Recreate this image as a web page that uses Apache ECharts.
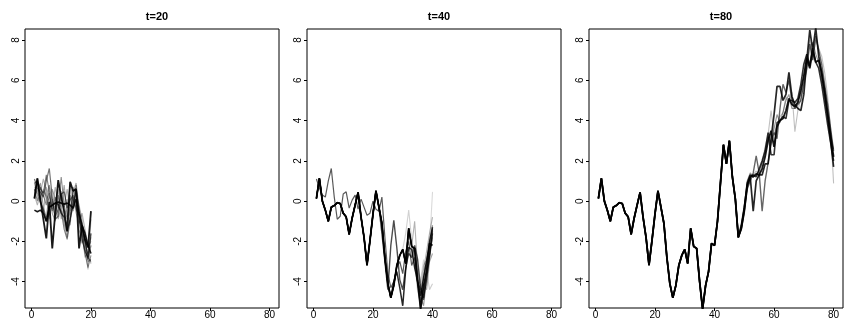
<!DOCTYPE html>
<html>
<head>
<meta charset="utf-8">
<script src="https://cdn.jsdelivr.net/npm/echarts@6/dist/echarts.min.js"></script>
<style>
  html, body { margin: 0; padding: 0; background: #fff; }
  #chart { width: 845px; height: 325px; }
</style>
</head>
<body>
<div id="chart"></div>
<script>
const titles = ['t=20', 't=40', 't=80']
const xTicks = [0, 20, 40, 60, 80]
const yTicks = [-4, -2, 0, 2, 4, 6, 8]

// shared ancestor path, t = 1..47
const trunk = [0.13, 1.13, 0.0, -0.45, -1.0, -0.3, -0.22, -0.08, -0.12, -0.6,
  -0.78, -1.65, -0.85, -0.2, 0.43, -0.8, -1.8, -3.18, -1.95, -0.65,
  0.51, -0.3, -1.1, -2.8, -4.1, -4.8, -4.2, -3.2, -2.7, -2.4,
  -3.1, -1.35, -2.25, -2.35, -4.0, -5.35, -4.2, -3.5, -2.1, -2.2,
  -1.0, 0.9, 2.8, 1.85, 3.0, 1.2, 0.1]

// panel t=20, paths t = 1..20
const p20a = [0.13, 1.13, 0.05, -0.9, -1.85, -0.03, -2.35, -0.6, 1.04, 0.2, -0.5, -1.5, 0.96, 0.5, 0.6, -2.35, -1.2, -1.9, -2.3, -0.5]
const p20b = [-0.45, -0.53, -0.45, -0.6, -1.0, -0.3, -0.2, -0.1, -0.05, -0.1, -0.15, -0.1, -0.2, -0.35, 0.1, -0.6, -1.2, -1.6, -2.2, -2.6]
const p20c = [0.13, 1.13, 0.0, -0.45, -1.0, -0.3, -0.22, -0.1, -0.15, -0.6, -0.8, -1.5, -0.9, -0.2, 0.6, -0.5, -1.4, -2.0, -2.8, -1.6]
const p20d = [1.1, 0.65, 0.45, 0.2, 1.0, 1.62, 0.2, -0.9, -0.75, 0.35, 0.46, -0.35, 0.05, 0.3, -0.4, -0.7, -1.6, -2.4, -2.9, -2.2]
const p20e = [0.6, 0.0, 0.7, 0.3, -0.2, 0.8, -0.1, -0.8, -0.4, 1.2, -0.2, -0.9, 0.3, -0.5, 0.8, -0.9, -1.8, -2.6, -3.3, -2.7]
const p20f = [0.9, 0.3, -0.1, 0.5, 0.2, -0.5, 0.6, 0.1, -0.9, -0.3, 0.8, -0.6, -1.2, 0.4, 0.9, -0.3, -1.1, -2.0, -2.6, -1.8]
const p20g = [0.2, 0.5, 0.9, -0.3, -0.8, 0.4, -0.6, -1.0, 0.3, -0.4, -1.1, -1.8, -0.4, 0.7, 0.2, -1.4, -2.1, -1.7, -3.0, -2.9]
const p20h = [0.7, 0.4, 0.2, 0.6, 0.3, 0.0, -0.4, -0.2, -0.6, 0.5, -0.3, 0.1, -0.7, -0.1, 0.4, -0.2, -0.9, -2.2, -3.4, -0.9]
const p20i = [0.3, -0.2, 0.4, 1.1, 0.5, -0.9, 0.1, -0.5, 0.6, -0.9, -0.2, 0.6, -0.5, 0.2, -0.6, -1.1, -0.6, -1.4, -2.3, -2.0]
const p20j = [0.5, 0.9, 0.1, -0.6, 0.7, 0.2, -0.3, 0.7, -0.2, 0.4, -0.8, -0.4, 0.9, 0.1, -0.3, -0.8, -1.5, -2.8, -2.5, -3.1]
const p20k = [0.9, 1.0, 0.6, 0.4, 1.3, 0.5, -0.5, 0.2, -0.3, -0.5, -1.4, -1.9, -1.0, 0.5, 0.6, -0.9, -1.9, -2.5, -2.8, -3.0]

// panel t=40
const p40gray = [1.1, 0.65, 0.3, 0.2, 1.0, 1.62, 0.2, -0.9, -0.75, 0.35,
  0.46, -0.35, 0.05, 0.3, -0.4, 0.1, -0.3, -0.7, -0.6, 0.0,
  -0.4, -0.5, 0.2, -1.8, -3.6, -4.3, -4.0, -3.3, -3.0, -3.6,
  -2.5, -2.0, -3.2, -2.8, -4.0, -4.4, -4.9, -3.9, -2.8, -1.4]
const p40cTail = [-0.3, -1.6, -3.0, -4.4, -2.2, -0.95, -2.3, -3.9, -4.4, -3.3, -2.6, -2.8, -2.2, -2.9, -4.3, -4.8, -3.6, -2.7, -1.6] // t = 22..40
const p40dTail = [-4.0, -3.5, -4.3, -5.2, -3.4, -2.3, -2.4, -3.3, -4.0, -4.7, -3.8, -3.0, -2.0, -1.3] // t = 27..40
const p40lTail = [-2.4, -1.6, -0.45, -1.9, -3.2, -4.2, -4.0, -3.2, -2.9, -2.4, -1.9] // t = 30..40
// t = 33..40
const p40t1 = [-2.25, -2.35, -4.0, -5.35, -4.2, -3.5, -2.1, -2.2]
const p40t2 = [-2.25, -2.35, -4.0, -5.35, -4.6, -3.2, -2.6, -1.5]
const p40t3 = [-2.25, -2.35, -4.0, -5.0, -3.8, -2.9, -2.3, -1.2]
const p40t4 = [-2.25, -2.35, -3.6, -4.8, -5.2, -3.8, -2.8, -1.8]
const p40t5 = [-2.25, -2.35, -4.0, -5.35, -4.1, -4.4, -3.0, -2.6]
const p40t6 = [-2.25, -1.0, -3.3, -4.4, -3.4, -2.5, -1.6, -0.8]
const p40t7 = [-2.25, -2.35, -4.3, -3.9, -2.9, -4.2, -2.2, 0.46]
const p40t8 = [-2.25, -2.9, -4.5, -5.0, -4.6, -3.4, -4.4, -4.1]

// panel t=80, branches t = 48..80
const p80a = [-1.8, -1.3, -0.4, 0.9, 1.3, 1.2, 1.35, 1.3, 1.6, 2.2, 3.0, 3.5, 2.7, 3.7, 4.0, 4.1, 4.5, 5.1, 4.8, 4.7, 4.9, 5.5, 6.2, 7.1, 6.6, 7.5, 6.9, 7.0, 6.4, 5.5, 4.4, 3.3, 2.2]
const p80b = [-1.8, -1.2, -0.3, 0.8, 1.2, -0.5, 1.0, 1.3, 1.3, 1.85, 1.85, 3.1, 4.3, 5.7, 5.7, 5.0, 5.3, 6.4, 5.2, 4.8, 4.6, 4.5, 5.3, 7.0, 8.5, 7.5, 8.6, 7.2, 6.3, 5.3, 4.2, 3.0, 1.7]
const p80c = [-1.8, -1.4, -0.6, 0.6, 1.0, 1.4, 2.25, 1.4, -0.5, 1.0, 1.9, 2.8, 3.4, 3.1, 4.6, 5.8, 5.4, 6.0, 5.0, 4.6, 4.8, 5.0, 5.9, 6.6, 7.8, 7.0, 8.2, 7.5, 6.8, 5.8, 4.8, 3.6, 2.5]
const p80d = [-1.8, -1.4, -0.4, 0.8, 1.2, 1.3, 1.5, 1.2, 1.9, 2.7, 3.3, 4.5, 3.3, 3.8, 4.2, 4.4, 5.2, 4.9, 5.4, 3.45, 4.5, 5.1, 5.7, 6.5, 8.0, 7.0, 8.0, 7.6, 7.2, 6.4, 5.2, 3.6, 0.88]
const p80e = [-1.8, -1.3, -0.3, 1.0, 1.4, 1.2, 1.3, 1.5, 1.9, 2.4, 3.2, 2.9, 3.6, 4.3, 3.9, 4.4, 5.0, 5.3, 4.6, 4.6, 5.0, 5.3, 6.3, 7.3, 6.8, 7.9, 7.3, 6.9, 6.0, 5.1, 4.2, 3.2, 2.6]
const p80f = [-1.8, -1.4, -0.5, 0.7, 1.2, 1.3, 1.2, 1.6, 2.0, 2.5, 3.4, 2.3, 2.3, 3.9, 4.0, 4.2, 4.1, 5.0, 5.0, 4.9, 5.1, 5.8, 6.8, 7.3, 6.7, 7.6, 6.9, 6.6, 5.8, 4.8, 3.8, 2.9, 2.0]

const pts = (ys, t0) => ys.map((y, i) => [t0 + i, y])

// [panel, values, first t, opacity, width]
const paths = [
  [0, p20h, 1, 0.25, 1.1], [0, p20i, 1, 0.3, 1.1], [0, p20j, 1, 0.3, 1.1],
  [0, p20f, 1, 0.35, 1.1], [0, p20g, 1, 0.4, 1.1], [0, p20e, 1, 0.45, 1.1],
  [0, p20k, 1, 0.5, 1.1], [0, p20d, 1, 0.55, 1.2], [0, p20c, 1, 0.7, 1.4],
  [0, p20b, 1, 0.9, 1.6], [0, p20a, 1, 0.9, 1.8],

  [1, trunk.slice(0, 29).concat(p40lTail), 1, 0.18, 1.1],
  [1, trunk.slice(0, 32).concat(p40t8), 1, 0.2, 1.1],
  [1, trunk.slice(0, 32).concat(p40t7), 1, 0.15, 1.1],
  [1, trunk.slice(0, 32).concat(p40t6), 1, 0.3, 1.1],
  [1, trunk.slice(0, 32).concat(p40t5), 1, 0.35, 1.2],
  [1, trunk.slice(0, 32).concat(p40t4), 1, 0.4, 1.2],
  [1, trunk.slice(0, 32).concat(p40t3), 1, 0.45, 1.2],
  [1, trunk.slice(0, 32).concat(p40t2), 1, 0.5, 1.3],
  [1, p40gray, 1, 0.65, 1.2],
  [1, trunk.slice(0, 21).concat(p40cTail), 1, 0.7, 1.4],
  [1, trunk.slice(0, 26).concat(p40dTail), 1, 0.85, 1.5],
  [1, trunk.slice(0, 32).concat(p40t1), 1, 0.9, 1.8],

  [2, trunk.concat(p80d), 1, 0.25, 1.1],
  [2, trunk.concat(p80e), 1, 0.4, 1.2],
  [2, trunk.concat(p80c), 1, 0.6, 1.4],
  [2, trunk.concat(p80f), 1, 0.8, 1.6],
  [2, trunk.concat(p80b), 1, 0.85, 1.7],
  [2, trunk.concat(p80a), 1, 0.9, 1.8]
]

const lefts = [25, 307, 589]
const font = 'Liberation Sans, Arial, sans-serif'

const chart = echarts.init(document.getElementById('chart'), null, { renderer: 'canvas' })
chart.setOption({
  animation: false,
  backgroundColor: '#fff',
  title: titles.map((t, i) => ({
    text: t,
    left: lefts[i] + 127,
    top: 6,
    textAlign: 'center',
    textStyle: { fontSize: 11, fontWeight: 'bold', color: '#000', fontFamily: font }
  })),
  grid: lefts.map(l => ({
    left: l, top: 29, width: 254, height: 279,
    show: true, borderColor: '#000', borderWidth: 1
  })),
  xAxis: lefts.map((l, i) => ({
    gridIndex: i, type: 'value', min: -2.16, max: 83.16, position: 'bottom',
    axisLine: { show: false, onZero: false },
    splitLine: { show: false },
    axisTick: { show: true, customValues: xTicks, length: 3, lineStyle: { color: '#000' } },
    axisLabel: { customValues: xTicks, margin: 2, fontSize: 10, color: '#000', fontFamily: font }
  })),
  yAxis: lefts.map((l, i) => ({
    gridIndex: i, type: 'value', min: -5.31, max: 8.55, position: 'left',
    axisLine: { show: false, onZero: false },
    splitLine: { show: false },
    axisTick: { show: true, customValues: yTicks, length: 3, lineStyle: { color: '#000' } },
    axisLabel: { customValues: yTicks, rotate: 90, margin: 4, fontSize: 10, color: '#000', fontFamily: font }
  })),
  series: paths.map(([g, ys, t0, a, w]) => ({
    type: 'line',
    xAxisIndex: g,
    yAxisIndex: g,
    data: pts(ys, t0),
    symbol: 'none',
    silent: true,
    clip: true,
    lineStyle: { color: 'rgba(0,0,0,' + a + ')', width: w }
  }))
})
</script>
</body>
</html>
